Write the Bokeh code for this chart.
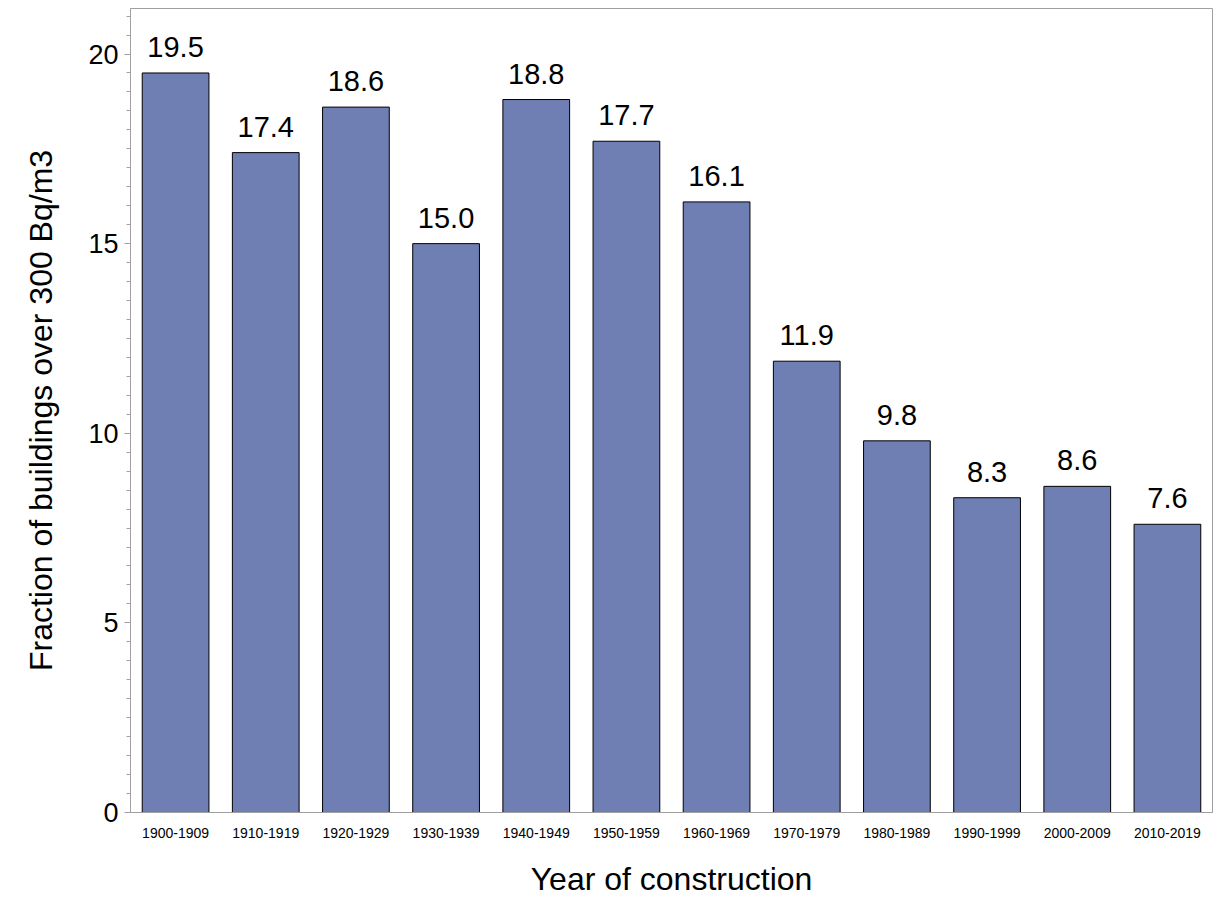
from bokeh.plotting import figure
from bokeh.models import ColumnDataSource, Range1d, FactorRange
from bokeh.core.properties import value
from bokeh.embed import file_html
from bokeh.resources import INLINE

decades = ["1900-1909", "1910-1919", "1920-1929", "1930-1939", "1940-1949", "1950-1959",
           "1960-1969", "1970-1979", "1980-1989", "1990-1999", "2000-2009", "2010-2019"]
fractions = [19.5, 17.4, 18.6, 15.0, 18.8, 17.7, 16.1, 11.9, 9.8, 8.3, 8.6, 7.6]
labels = ["%.1f" % v for v in fractions]

src = ColumnDataSource(dict(x=decades, top=fractions, label=labels))

FONT = "Liberation Sans"
p = figure(x_range=FactorRange(*decades, range_padding=0), y_range=Range1d(0, 21.2),
           frame_width=1082, frame_height=804, min_border_left=130, min_border_right=2,
           min_border_top=8, min_border_bottom=76,
           output_backend="svg", toolbar_location=None, tools="")

p.vbar(x="x", top="top", width=0.74, source=src, fill_color="#6F7EB3",
       line_color="black", line_width=1)
p.text(x="x", y="top", text="label", source=src, text_align="center",
       text_baseline="bottom", y_offset=-16, text_font=value(FONT),
       text_font_size="29px", text_color="black")

p.xgrid.grid_line_color = None
p.ygrid.grid_line_color = None
p.outline_line_color = "#A0A0A0"
p.outline_line_width = 1

p.yaxis.ticker.desired_num_ticks = 5
p.yaxis.ticker.num_minor_ticks = 10
p.yaxis.axis_label = "Fraction of buildings over 300 Bq/m3"
p.xaxis.axis_label = "Year of construction"
for ax in (p.xaxis, p.yaxis):
    ax.axis_line_color = "#A0A0A0"
    ax.major_tick_line_color = "#A0A0A0"
    ax.minor_tick_line_color = "#A0A0A0"
    ax.axis_label_text_font = FONT
    ax.axis_label_text_font_style = "normal"
    ax.axis_label_text_font_size = "32px"
    ax.axis_label_text_color = "black"
    ax.major_label_text_font = FONT
    ax.major_label_text_color = "black"
p.yaxis.major_tick_out = 6
p.yaxis.major_tick_in = 0
p.yaxis.minor_tick_out = 4
p.yaxis.minor_tick_in = 0
p.yaxis.major_label_text_font_size = "27px"
p.yaxis.major_label_standoff = 6
p.yaxis.axis_label_standoff = 26
p.xaxis.major_tick_line_color = None
p.xaxis.minor_tick_line_color = None
p.xaxis.major_label_text_font_size = "14px"
p.xaxis.major_label_standoff = 9
p.xaxis.axis_label_standoff = 20

open("out.html", "w").write(file_html(p, INLINE))
